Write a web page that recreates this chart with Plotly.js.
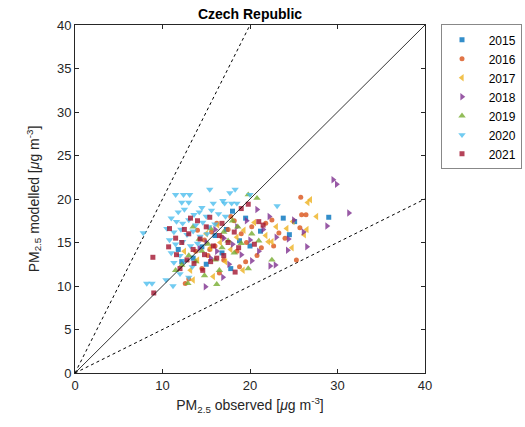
<!DOCTYPE html>
<html><head><meta charset="utf-8">
<script src="https://cdn.plot.ly/plotly-3.0.1.min.js"></script>
<style>html,body{margin:0;padding:0;background:#fff}#chart{width:525px;height:427px}</style>
</head><body><div id="chart"></div>
<script>
const years = ['2015','2016','2017','2018','2019','2020','2021'];
const colors = ['#0072BD','#D95319','#EDB120','#7E2F8E','#77AC30','#4DBEEE','#A2142F'];
const symbols = ['square','circle','triangle-left','triangle-right','triangle-up','triangle-down','square'];

const obs2015 = [29.0,23.8,25.1,24.5,18.0,17.3,16.0,14.5,13.5,15.0,18.8,20.0,19.5,12.2,16.8,21.2,17.8,11.8];
const mod2015 = [17.9,17.8,17.4,15.9,18.6,16.5,15.8,14.5,13.2,12.5,15.2,14.6,17.8,12.8,13.8,16.3,12.0,14.2];

const obs2016 = [25.8,25.9,26.4,25.7,25.3,23.3,21.3,22.7,12.6,13.0,14.5,15.2,16.0,16.8,17.5,18.2,19.0,19.6,20.2,17.0,16.2,15.6,14.8,18.5,19.5,13.8,21.8,22.5,24.0,17.8,16.5,18.8,20.8,15.4,14.0];
const mod2016 = [20.2,18.2,18.2,16.7,13.0,16.1,14.4,14.6,10.3,10.8,12.0,13.5,14.6,15.6,16.5,17.5,16.0,15.0,16.8,13.0,17.2,16.2,15.3,14.0,12.8,14.0,17.2,17.6,15.5,18.0,11.5,12.2,13.5,14.2,16.4];

const obs2017 = [26.9,26.6,27.6,24.9,24.2,26.5,26.2,24.8,22.1,22.5,19.2,15.8,13.5,14.0,15.5,16.6,17.8,18.5,19.3,20.5,17.2,13.2,15.0,21.8,12.5,16.3,23.0];
const mod2017 = [19.9,19.6,18.0,17.4,16.6,16.5,15.9,14.4,15.1,15.1,11.8,11.1,10.7,13.0,14.4,15.0,14.2,15.6,16.4,17.3,12.8,11.8,16.0,15.8,14.0,17.0,16.8];

const obs2018 = [29.5,29.9,31.3,28.8,26.5,24.3,24.4,26.1,14.9,16.9,20.2,22.3,22.9,20.0,21.5,18.0,17.0,16.2,15.5,19.0,18.5,22.2,23.0,21.0,17.6,16.0,15.0,14.2,19.6,20.8,25.0];
const mod2018 = [22.2,21.7,18.4,16.9,14.5,14.1,15.4,16.2,9.9,11.0,12.9,12.3,12.4,15.3,16.5,14.8,15.5,14.0,13.2,13.6,16.8,18.0,15.6,14.0,12.5,16.5,15.0,14.3,17.5,18.8,17.6];

const obs2019 = [19.8,20.8,12.9,12.2,13.0,13.8,14.5,15.2,16.0,16.8,17.5,18.2,19.0,17.0,15.5,14.2,18.6,20.2,21.0,19.8,16.5,14.8,22.5,18.0,13.5,11.5,16.2];
const mod2019 = [20.5,20.1,10.3,12.4,13.5,12.8,14.0,14.8,13.0,14.4,15.2,13.8,14.9,16.2,16.6,15.4,16.8,16.0,15.2,12.0,11.8,11.2,13.0,17.5,16.8,11.8,10.2];

const obs2020 = [7.8,11.5,12.4,13.1,15.4,17.7,18.3,15.8,17.1,17.9,18.5,23.1,12.2,13.0,14.5,11.8,12.5,13.6,14.2,15.0,15.6,16.4,17.2,11.0,11.6,12.3,13.0,13.8,14.6,15.3,16.0,10.5,11.3,12.1,12.8,13.5,14.3,15.1,10.8,11.5,12.3,13.2,14.0,11.0,12.0,11.3,12.6,13.4,12.0,13.0,8.2,8.8,10.4,11.2,16.9,20.0];
const mod2020 = [16.1,20.5,20.5,20.5,21.1,20.7,21.1,19.5,19.5,19.5,19.5,19.2,19.6,19.6,19.0,18.5,18.8,18.2,18.5,18.0,18.7,18.3,18.0,17.8,17.4,17.2,17.6,17.0,17.3,16.8,17.1,16.6,16.2,16.5,15.9,16.3,15.7,16.0,15.3,14.8,15.1,14.6,14.9,13.8,13.5,12.7,12.9,12.2,11.4,11.0,10.3,10.3,10.7,10.0,19.8,20.5];

const obs2021 = [9.0,8.9,10.7,11.5,12.2,13.0,12.8,13.5,14.3,15.0,15.8,16.5,17.0,18.2,19.0,19.8,21.5,18.3,12.0,13.6,14.6,15.5,16.2,13.2,14.0,15.4,11.6,10.8,12.5,17.5,18.7,20.5,21.0,16.8,14.8];
const mod2021 = [9.2,13.3,14.5,15.5,15.0,16.0,13.0,14.2,15.4,16.8,14.6,15.8,13.5,16.2,18.9,19.4,17.0,11.6,12.0,12.6,11.8,12.8,13.2,17.8,17.5,17.9,13.6,16.6,16.5,15.0,14.4,14.8,17.4,17.2,13.6];

const obsAll = [obs2015,obs2016,obs2017,obs2018,obs2019,obs2020,obs2021];
const modAll = [mod2015,mod2016,mod2017,mod2018,mod2019,mod2020,mod2021];

// reference lines: 1:1, 2:1, 1:2
const lineOneX = [0,40], lineOneY = [0,40];
const lineTwoX = [0,20], lineTwoY = [0,40];
const lineHalfX = [0,40], lineHalfY = [0,20];

const traces = [];
traces.push({x:lineTwoX,y:lineTwoY,mode:'lines',line:{color:'#000',width:1,dash:'3px,3px'},showlegend:false,hoverinfo:'skip'});
traces.push({x:lineHalfX,y:lineHalfY,mode:'lines',line:{color:'#000',width:1,dash:'3px,3px'},showlegend:false,hoverinfo:'skip'});
years.forEach((yr,i)=>{
  traces.push({x:obsAll[i],y:modAll[i],mode:'markers',name:'\u00a0\u00a0'+yr,type:'scatter',
    marker:{symbol:symbols[i],color:colors[i],size:(symbols[i]==='circle'||symbols[i]==='square')?5:6.5,opacity:0.8,line:{width:0}}});
});
traces.push({x:lineOneX,y:lineOneY,mode:'lines',line:{color:'#000',width:0.8},showlegend:false,hoverinfo:'skip'});

const axBase = {range:[0,40],showgrid:false,zeroline:false,showline:true,mirror:'ticks',
  linecolor:'#262626',linewidth:1,ticks:'inside',ticklen:4,tickcolor:'#262626',
  tickfont:{family:'Liberation Sans, Arial',size:13,color:'#262626'}};

const layout = {
  width:525,height:427,paper_bgcolor:'#fff',plot_bgcolor:'#fff',
  margin:{l:75,r:100,t:25,b:54},
  font:{family:'Liberation Sans, Arial',color:'#262626'},
  title:{text:'<b>Czech Republic</b>',x:0.5,xref:'paper',y:1,yref:'paper',yanchor:'bottom',pad:{b:6},font:{size:14,color:'#000'}},
  xaxis:Object.assign({},axBase,{tickvals:[0,10,20,30,40],title:{text:'PM<sub>2.5</sub> observed [<i>μ</i>g m<sup>-3</sup>]',font:{size:14},standoff:8}}),
  yaxis:Object.assign({},axBase,{tickvals:[0,5,10,15,20,25,30,35,40],title:{text:'PM<sub>2.5</sub> modelled [<i>μ</i>g m<sup>-3</sup>]',font:{size:14},standoff:14}}),
  legend:{xref:'container',yref:'container',x:0.84,xanchor:'left',y:0.943,yanchor:'top',bordercolor:'#888',borderwidth:1,bgcolor:'#fff',
    font:{size:12,color:'#000'},itemwidth:30,tracegroupgap:0},
  showlegend:true
};
Plotly.newPlot('chart',traces,layout,{displayModeBar:false,staticPlot:true});
</script></body></html>
